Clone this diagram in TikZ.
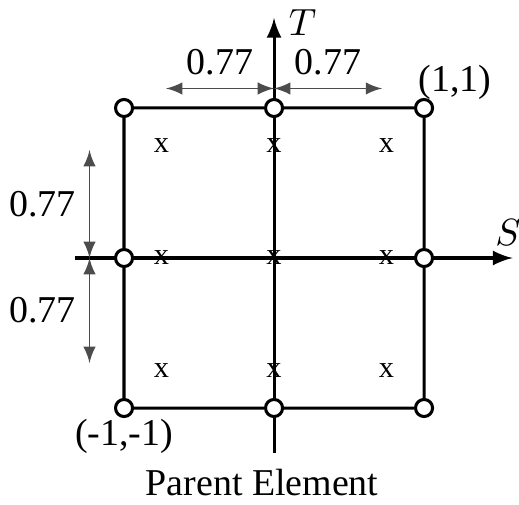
\documentclass[tikz,border=0pt]{standalone}
\usepackage{fontspec}
\setmainfont{Liberation Serif}
\usetikzlibrary{calc}

\begin{document}
\begin{tikzpicture}[scale=1.39,
		vtx/.style={circle, draw, fill=white, line width=0.8pt, inner sep=0pt, minimum size=4.5pt},
		gpt/.style={inner sep=0pt, font=\footnotesize},
		dimline/.style={latex-latex, line width=0.5pt, gray!60!black}]
		\useasboundingbox (-1.827,-1.64) rectangle (1.633,1.72);
		% axes
		\coordinate (sl) at (-1.33,0);
		\coordinate (sr) at (1.59,0);
		\coordinate (tb) at (0,-1.30);
		\coordinate (tt) at (0,1.60);
		\draw[-latex, line width=0.8pt] (sl) -- (sr);
		\draw[-latex, line width=0.8pt] (tb) -- (tt);
		\node (slab) at (1.56,0.17) {$S$};
		\node (tlab) at (0.19,1.57) {$T$};
		% nodes of the element
		\foreach \i/\x in {1/-1,2/0,3/1} {
			\foreach \j/\y in {1/-1,2/0,3/1} {
				\ifnum\i\j=22 \else
				\node[vtx] (n\i\j) at (\x,\y) {};
				\fi
			}
		}
		\draw[line width=0.8pt] (n11) -- (n21) -- (n31) -- (n32) -- (n33) -- (n23) -- (n13) -- (n12) -- (n11);
		% gauss points
		\foreach \i/\x in {1/-0.75,2/0,3/0.75} {
			\foreach \j/\y in {1/-0.75,2/0,3/0.75} {
				\node[gpt] (g\i\j) at (\x,\y) {x};
			}
		}
		% dimensions
		\coordinate (dl) at (-0.72,1.13);
		\coordinate (dm) at (0,1.13);
		\coordinate (dr) at (0.72,1.13);
		\draw[dimline] (dl) -- (dm) node[midway, above, black] {0.77};
		\draw[dimline] (dm) -- (dr) node[midway, above, black] {0.77};
		\coordinate (vt) at (-1.23,0.72);
		\coordinate (vm) at (-1.23,0);
		\coordinate (vb) at (-1.23,-0.70);
		\draw[dimline] (vt) -- (vm) node[midway, left, black] {0.77};
		\draw[dimline] (vm) -- (vb) node[midway, left, black] {0.77};
		% labels
		\node[anchor=south west, inner sep=0pt] (c11) at ($(n33)+(-0.04,0.05)$) {(1,1)};
		\node[anchor=north, inner sep=0pt] (cm1) at ($(n11)+(0,-0.07)$) {(-1,-1)};
		\node (title) at (-0.08,-1.50) {Parent Element};
	\end{tikzpicture}
\end{document}
